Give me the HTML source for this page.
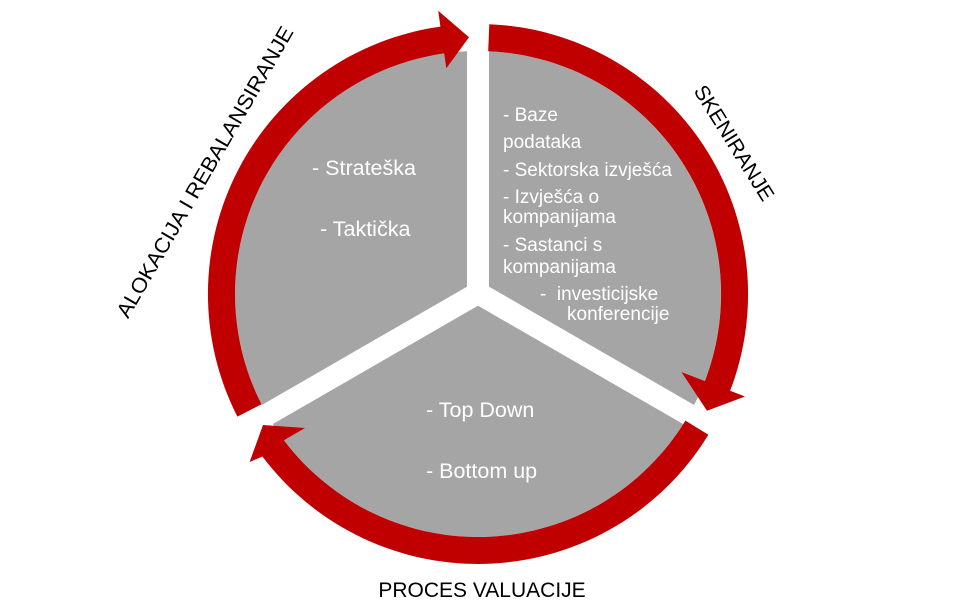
<!DOCTYPE html>
<html><head><meta charset="utf-8"><style>
html,body{margin:0;padding:0;background:#fff;}
svg{display:block;}
.w{fill:#fff;font-family:"Liberation Sans",sans-serif;font-size:19px;}
.w2{fill:#fff;font-family:"Liberation Sans",sans-serif;font-size:21.5px;}
.b{fill:#000;font-family:"Liberation Sans",sans-serif;font-size:21px;}
</style></head><body>
<svg width="967" height="603" viewBox="0 0 967 603" xmlns="http://www.w3.org/2000/svg">
<circle cx="478" cy="294" r="243" fill="#a5a5a5"/>
<g stroke="#fff" stroke-width="22" fill="none">
<line x1="478" y1="293" x2="478" y2="0"/>
<line x1="478" y1="293" x2="218" y2="443"/>
<line x1="478" y1="293" x2="738" y2="443"/>
</g>
<circle cx="478" cy="293" r="12" fill="#fff"/>
<g fill="#c00000">
<path d="M237.4 416.6 A270 270 0 0 1 440.4 26.6 L438.2 10.8 L469 37.2 L446.3 68.2 L444.2 53.4 A243 243 0 0 0 261.5 404.3 Z"/>
<path d="M489.3 24.2 A270 270 0 0 1 730.1 390.8 L745 396.5 L707 410.7 L681.5 372.1 L704.9 381.1 A243 243 0 0 0 488.2 51.2 Z"/>
<path d="M708.4 434.7 A270 270 0 0 1 262.4 456.5 L249.6 462 L263 425 L305 428 L283.9 440.2 A243 243 0 0 0 685.4 420.6 Z"/>
</g>
<text class="w2" x="312" y="175">- Strateška</text>
<text class="w2" x="320" y="236">- Taktička</text>
<text class="w" x="503" y="121">- Baze</text>
<text class="w" x="503" y="148">podataka</text>
<text class="w" x="503" y="176">- Sektorska izvješća</text>
<text class="w" x="503" y="203">- Izvješća o</text>
<text class="w" x="503" y="223">kompanijama</text>
<text class="w" x="503" y="251">- Sastanci s</text>
<text class="w" x="503" y="273">kompanijama</text>
<text class="w" x="540" y="300" xml:space="preserve">-  investicijske</text>
<text class="w" x="567" y="320">konferencije</text>
<text class="w2" x="426" y="417">- Top Down</text>
<text class="w2" x="426" y="478">- Bottom up</text>
<text class="b" x="482" y="597" text-anchor="middle">PROCES VALUACIJE</text>
<text class="b" x="0" y="7" text-anchor="middle" transform="translate(734,143) rotate(58)">SKENIRANJE</text>
<text class="b" x="0" y="7" text-anchor="middle" textLength="332" lengthAdjust="spacingAndGlyphs" transform="translate(205,172) rotate(-60)">ALOKACIJA I REBALANSIRANJE</text>
</svg>
</body></html>
